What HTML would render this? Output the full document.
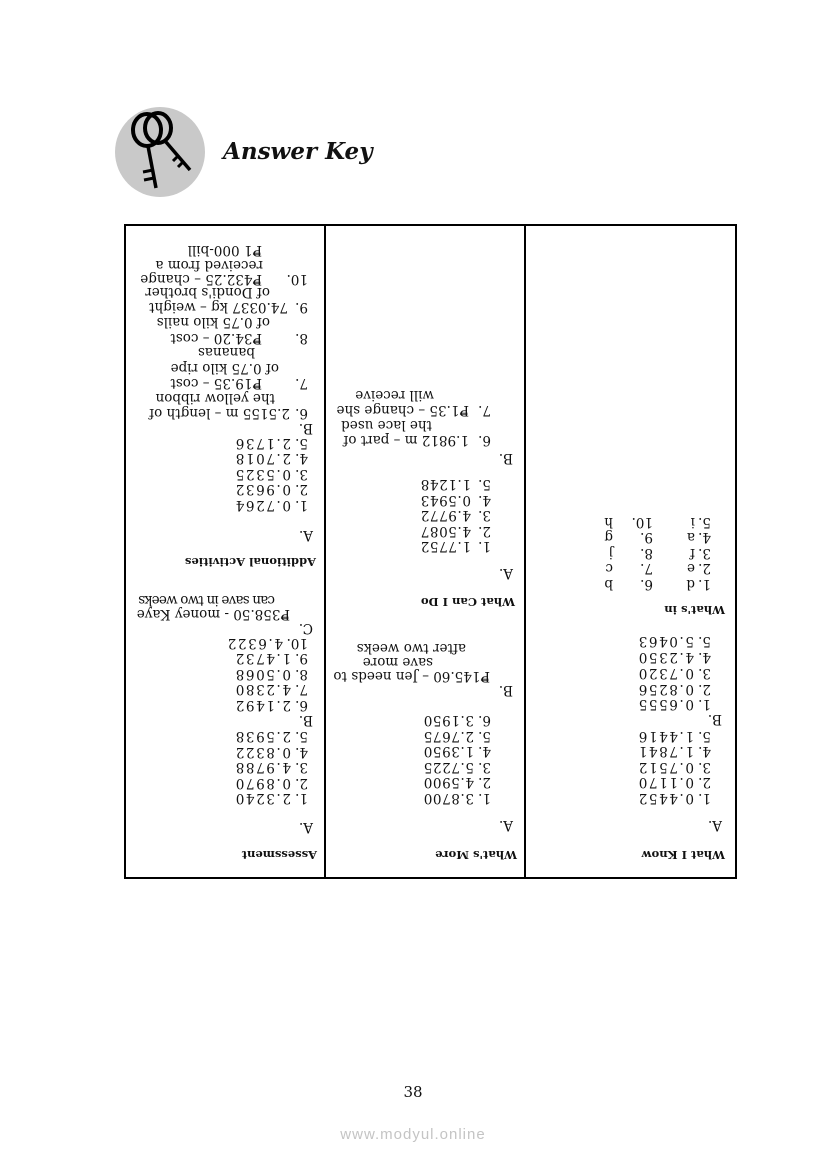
<!DOCTYPE html>
<html><head><meta charset="utf-8"><style>
html,body{margin:0;padding:0;background:#fff;}
body{width:826px;height:1169px;position:relative;overflow:hidden;font-family:"DejaVu Serif","Liberation Serif",serif;color:#111;}
.box{position:absolute;left:124px;top:224px;width:609px;height:651px;border:2px solid #000;transform:rotate(180deg);}
.dv{position:absolute;top:0;width:2px;height:651px;background:#000;}
.col{position:absolute;top:-10px;width:200px;height:660px;}
.t{position:absolute;white-space:nowrap;font-size:13.5px;line-height:16px;}
.h{position:absolute;white-space:nowrap;font-size:11.5px;line-height:16px;font-weight:bold;}
.n{display:inline-block;}
.v{letter-spacing:1.6px;}
.w{letter-spacing:0.6px;}
</style></head><body>

<svg style="position:absolute;left:110px;top:102px" width="100" height="100" viewBox="110 102 100 100">
<circle cx="160" cy="152" r="45" fill="#c9c9c9"/>
<ellipse cx="147" cy="130" rx="14" ry="16" fill="none" stroke="#000" stroke-width="4"/>
<ellipse cx="158" cy="128" rx="13" ry="15" fill="none" stroke="#000" stroke-width="4"/>
<line x1="148" y1="146" x2="156" y2="188" stroke="#000" stroke-width="3.5"/>
<line x1="143" y1="172" x2="153" y2="170" stroke="#000" stroke-width="3"/>
<line x1="144" y1="180" x2="154" y2="178" stroke="#000" stroke-width="3"/>
<line x1="166" y1="142" x2="190" y2="170" stroke="#000" stroke-width="3.5"/>
<line x1="173" y1="161" x2="179" y2="155" stroke="#000" stroke-width="3"/>
<line x1="178" y1="167" x2="184" y2="161" stroke="#000" stroke-width="3"/>
</svg>
<div style="position:absolute;left:223px;top:137px;font-size:23px;line-height:30px;font-weight:bold;font-style:italic;white-space:nowrap;">Answer Key</div>

<div class="box">
<div class="dv" style="left:209px"></div>
<div class="dv" style="left:409px"></div>

<!-- Column: What I Know -->
<div class="col" style="left:0">
<div class="h" style="left:10px;top:24px">What I Know</div>
<div class="t" style="left:13px;top:54px">A.</div>
<div class="t" style="left:24px;top:81px"><span class="n" style="width:17px">1.</span><span class="v">0.4452</span></div>
<div class="t" style="left:24px;top:97px"><span class="n" style="width:17px">2.</span><span class="v">0.1170</span></div>
<div class="t" style="left:24px;top:112px"><span class="n" style="width:17px">3.</span><span class="v">0.7512</span></div>
<div class="t" style="left:24px;top:128px"><span class="n" style="width:17px">4.</span><span class="v">1.7841</span></div>
<div class="t" style="left:24px;top:143px"><span class="n" style="width:17px">5.</span><span class="v">1.4416</span></div>
<div class="t" style="left:13px;top:160px">B.</div>
<div class="t" style="left:24px;top:175px"><span class="n" style="width:17px">1.</span><span class="v">0.6555</span></div>
<div class="t" style="left:24px;top:190px"><span class="n" style="width:17px">2.</span><span class="v">0.8256</span></div>
<div class="t" style="left:24px;top:206px"><span class="n" style="width:17px">3.</span><span class="v">0.7320</span></div>
<div class="t" style="left:24px;top:222px"><span class="n" style="width:17px">4.</span><span class="v">4.2350</span></div>
<div class="t" style="left:24px;top:238px"><span class="n" style="width:17px">5.</span><span class="v">5.0463</span></div>
<div class="h" style="left:10px;top:269px">What's in</div>
<div class="t" style="left:24px;top:295px"><span class="n" style="width:16px">1.</span><span class="n" style="width:42px">d</span><span class="n" style="width:40px">6.</span>b</div>
<div class="t" style="left:24px;top:311px"><span class="n" style="width:16px">2.</span><span class="n" style="width:42px">e</span><span class="n" style="width:40px">7.</span>c</div>
<div class="t" style="left:24px;top:326px"><span class="n" style="width:16px">3.</span><span class="n" style="width:42px">f</span><span class="n" style="width:40px">8.</span>j</div>
<div class="t" style="left:24px;top:342px"><span class="n" style="width:16px">4.</span><span class="n" style="width:42px">a</span><span class="n" style="width:40px">9.</span>g</div>
<div class="t" style="left:24px;top:357px"><span class="n" style="width:16px">5.</span><span class="n" style="width:42px">i</span><span class="n" style="width:40px">10.</span>h</div>
</div>

<!-- Column: What's More / What Can I Do -->
<div class="col" style="left:210px">
<div class="h" style="left:8px;top:24px">What's More</div>
<div class="t" style="left:12px;top:54px">A.</div>
<div class="t" style="left:34px;top:81px"><span class="n" style="width:17px">1.</span><span class="w">3.8700</span></div>
<div class="t" style="left:34px;top:97px"><span class="n" style="width:17px">2.</span><span class="w">4.5900</span></div>
<div class="t" style="left:34px;top:112px"><span class="n" style="width:17px">3.</span><span class="w">5.7225</span></div>
<div class="t" style="left:34px;top:128px"><span class="n" style="width:17px">4.</span><span class="w">1.3950</span></div>
<div class="t" style="left:34px;top:143px"><span class="n" style="width:17px">5.</span><span class="w">2.7675</span></div>
<div class="t" style="left:34px;top:159px"><span class="n" style="width:17px">6.</span><span class="w">3.1950</span></div>
<div class="t" style="left:12px;top:189px">B.</div>
<div class="t" style="left:35px;top:203px">₱145.60 – Jen needs to</div>
<div class="t" style="left:92px;top:217px">save more</div>
<div class="t" style="left:59px;top:231px">after two weeks</div>
<div class="h" style="left:10px;top:277px">What Can I Do</div>
<div class="t" style="left:12px;top:306px">A.</div>
<div class="t" style="left:34px;top:333px"><span class="n" style="width:20px">1.</span><span class="w">1.7752</span></div>
<div class="t" style="left:34px;top:348px"><span class="n" style="width:20px">2.</span><span class="w">4.5087</span></div>
<div class="t" style="left:34px;top:364px"><span class="n" style="width:20px">3.</span><span class="w">4.9772</span></div>
<div class="t" style="left:34px;top:379px"><span class="n" style="width:20px">4.</span><span class="w">0.5943</span></div>
<div class="t" style="left:34px;top:395px"><span class="n" style="width:20px">5.</span><span class="w">1.1248</span></div>
<div class="t" style="left:12px;top:421px">B.</div>
<div class="t" style="left:34px;top:439px"><span class="n" style="width:22px">6.</span>1.9812 m – part of</div>
<div class="t" style="left:93px;top:454px">the lace used</div>
<div class="t" style="left:34px;top:469px"><span class="n" style="width:22px">7.</span>₱1.35 – change she</div>
<div class="t" style="left:91px;top:484px">will receive</div>
</div>

<!-- Column: Assessment / Additional Activities -->
<div class="col" style="left:410px">
<div class="h" style="left:8px;top:24px">Assessment</div>
<div class="t" style="left:12px;top:52px">A.</div>
<div class="t" style="left:17px;top:81px"><span class="n" style="width:17px">1.</span><span class="v">2.3240</span></div>
<div class="t" style="left:17px;top:96px"><span class="n" style="width:17px">2.</span><span class="v">0.8970</span></div>
<div class="t" style="left:17px;top:112px"><span class="n" style="width:17px">3.</span><span class="v">4.9788</span></div>
<div class="t" style="left:17px;top:127px"><span class="n" style="width:17px">4.</span><span class="v">0.8322</span></div>
<div class="t" style="left:17px;top:143px"><span class="n" style="width:17px">5.</span><span class="v">2.5938</span></div>
<div class="t" style="left:12px;top:159px">B.</div>
<div class="t" style="left:17px;top:174px"><span class="n" style="width:17px">6.</span><span class="v">2.1492</span></div>
<div class="t" style="left:17px;top:190px"><span class="n" style="width:17px">7.</span><span class="v">4.2380</span></div>
<div class="t" style="left:17px;top:205px"><span class="n" style="width:17px">8.</span><span class="v">0.5068</span></div>
<div class="t" style="left:17px;top:221px"><span class="n" style="width:17px">9.</span><span class="v">1.4732</span></div>
<div class="t" style="left:17px;top:236px"><span class="n" style="width:25px">10.</span><span class="v">4.6322</span></div>
<div class="t" style="left:12px;top:251px">C.</div>
<div class="t" style="left:35px;top:265px">₱358.50 - money Kaye</div>
<div class="t" style="left:50px;top:279px;letter-spacing:-0.8px">can save in two weeks</div>
<div class="h" style="left:9px;top:317px">Additional Activities</div>
<div class="t" style="left:12px;top:344px">A.</div>
<div class="t" style="left:17px;top:374px"><span class="n" style="width:17px">1.</span><span class="v">0.7264</span></div>
<div class="t" style="left:17px;top:390px"><span class="n" style="width:17px">2.</span><span class="v">0.9632</span></div>
<div class="t" style="left:17px;top:405px"><span class="n" style="width:17px">3.</span><span class="v">0.5325</span></div>
<div class="t" style="left:17px;top:421px"><span class="n" style="width:17px">4.</span><span class="v">2.7018</span></div>
<div class="t" style="left:17px;top:436px"><span class="n" style="width:17px">5.</span><span class="v">2.1736</span></div>
<div class="t" style="left:12px;top:451px">B.</div>
<div class="t" style="left:17px;top:466px"><span class="n" style="width:18px">6.</span>2.5155 m – length of</div>
<div class="t" style="left:50px;top:481px">the yellow ribbon</div>
<div class="t" style="left:17px;top:496px"><span class="n" style="width:46px">7.</span>₱19.35 – cost</div>
<div class="t" style="left:46px;top:511px">of 0.75 kilo ripe</div>
<div class="t" style="left:70px;top:527px">bananas</div>
<div class="t" style="left:17px;top:541px"><span class="n" style="width:46px">8.</span>₱34.20 – cost</div>
<div class="t" style="left:55px;top:557px">of 0.75 kilo nails</div>
<div class="t" style="left:17px;top:572px"><span class="n" style="width:20px">9.</span>74.0337 kg – weight</div>
<div class="t" style="left:55px;top:587px">of Dondi's brother</div>
<div class="t" style="left:17px;top:600px"><span class="n" style="width:46px">10.</span>₱432.25 – change</div>
<div class="t" style="left:62px;top:614px">received from a</div>
<div class="t" style="left:63px;top:629px">₱1 000-bill</div>
</div>
</div>

<div style="position:absolute;left:383px;width:60px;text-align:center;top:1083px;font-size:15px;line-height:18px;">38</div>
<div style="position:absolute;left:300px;width:226px;text-align:center;top:1126px;font-family:'Liberation Sans',sans-serif;font-size:15px;line-height:18px;letter-spacing:1px;color:#c4c4c4;">www.modyul.online</div>
</body></html>
